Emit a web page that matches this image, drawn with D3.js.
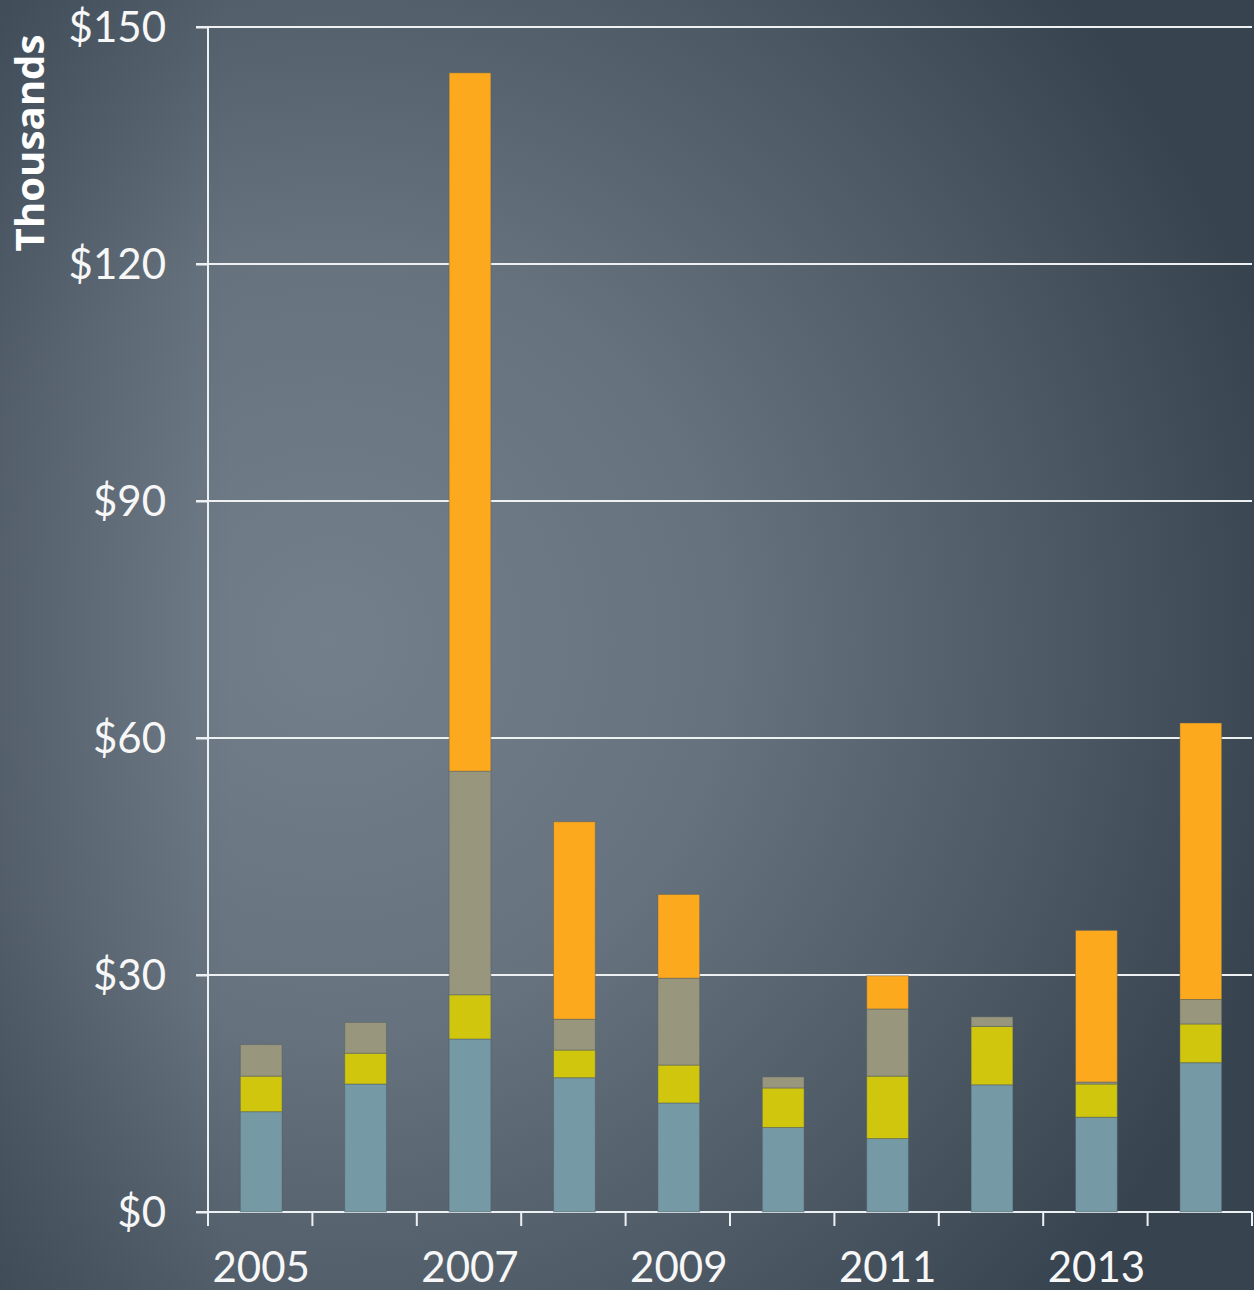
<!DOCTYPE html>
<html>
<head>
<meta charset="utf-8">
<script src="https://cdn.jsdelivr.net/npm/d3@7"></script>
<style>
  html, body { margin: 0; padding: 0; background: #2f3b48; }
  svg { display: block; }
</style>
</head>
<body>
<div id="chart"></div>
<script>
// values in thousands of dollars
var years = ["2005", "2006", "2007", "2008", "2009", "2010", "2011", "2012", "2013", "2014"];
var seriesKeys = ["first", "second", "third", "fourth"];
var firstValues  = [12.7, 16.2, 21.9, 17.0, 13.8, 10.7, 9.3, 16.1, 12.0, 18.9];
var secondValues = [4.5, 3.9, 5.6, 3.5, 4.8, 5.0, 7.9, 7.4, 4.2, 4.9];
var thirdValues  = [4.0, 3.9, 28.3, 3.9, 11.0, 1.4, 8.5, 1.2, 0.25, 3.1];
var fourthValues = [0, 0, 88.4, 25.0, 10.6, 0, 4.2, 0, 19.2, 35.0];
var yTicks = [0, 30, 60, 90, 120, 150];
var labelYears = ["2005", "2007", "2009", "2011", "2013"];
var colors = ["#7599a5", "#d0c60e", "#98967c", "#fda91e"];

var WIDTH = 1254, HEIGHT = 1290;
var PLOT_LEFT = 208, PLOT_RIGHT = 1252, PLOT_TOP = 27, PLOT_BOTTOM = 1212;

var rows = years.map(function(y, i){
	return { year: y, first: firstValues[i], second: secondValues[i], third: thirdValues[i], fourth: fourthValues[i] };
});

var svg = d3.select("#chart").append("svg")
	.attr("width", WIDTH)
	.attr("height", HEIGHT);

// background
var defs = svg.append("defs");
var rg = defs.append("radialGradient")
	.attr("id", "bg")
	.attr("gradientUnits", "userSpaceOnUse")
	.attr("cx", 330).attr("cy", 640).attr("r", 980);
rg.append("stop").attr("offset", 0).attr("stop-color", "#737f8a");
rg.append("stop").attr("offset", 0.4).attr("stop-color", "#66727d");
rg.append("stop").attr("offset", 0.75).attr("stop-color", "#4c5965");
rg.append("stop").attr("offset", 1).attr("stop-color", "#37434f");
var lg = defs.append("linearGradient")
	.attr("id", "edge")
	.attr("gradientUnits", "userSpaceOnUse")
	.attr("x1", 0).attr("x2", 230).attr("y1", 0).attr("y2", 0);
lg.append("stop").attr("offset", 0).attr("stop-color", "#19232f").attr("stop-opacity", 0.25);
lg.append("stop").attr("offset", 1).attr("stop-color", "#19232f").attr("stop-opacity", 0);

svg.append("rect").attr("width", WIDTH).attr("height", HEIGHT).attr("fill", "url(#bg)");
svg.append("rect").attr("width", 230).attr("height", HEIGHT).attr("fill", "url(#edge)");

var x = d3.scaleBand()
	.domain(years)
	.range([PLOT_LEFT + 1, PLOT_RIGHT + 1])
	.paddingInner(0.6)
	.paddingOuter(0.3);

var y = d3.scaleLinear()
	.domain([0, 150])
	.range([PLOT_BOTTOM, PLOT_TOP]);

// grid lines
svg.append("g").attr("class", "grid")
	.selectAll("line")
	.data(yTicks)
	.enter().append("line")
	.attr("x1", PLOT_LEFT - 12)
	.attr("x2", PLOT_RIGHT)
	.attr("y1", function(d){ return y(d); })
	.attr("y2", function(d){ return y(d); })
	.attr("stroke", "#eef1f3")
	.attr("stroke-width", 2);

// stacked bars
var stack = d3.stack().keys(seriesKeys);
var layers = stack(rows);

svg.append("g").attr("class", "bars")
	.selectAll("g")
	.data(layers)
	.enter().append("g")
	.attr("fill", function(d, i){ return colors[i]; })
	.selectAll("rect")
	.data(function(d){ return d.filter(function(p){ return p[1] - p[0] > 0; }); })
	.enter().append("rect")
	.attr("x", function(d){ return x(d.data.year); })
	.attr("width", x.bandwidth())
	.attr("y", function(d){ return y(d[1]); })
	.attr("height", function(d){ return y(d[0]) - y(d[1]); })
	.attr("stroke", "rgba(80,90,100,0.45)")
	.attr("stroke-width", 1);

// y axis
var yAxis = d3.axisLeft(y)
	.tickValues(yTicks)
	.tickSize(12)
	.tickPadding(30)
	.tickFormat(function(d){ return "$" + d; });

var yg = svg.append("g")
	.attr("transform", "translate(" + PLOT_LEFT + ",0)")
	.call(yAxis);
yg.select(".domain").remove();
yg.selectAll(".tick line").attr("stroke", "#eef1f3").attr("stroke-width", 2);
yg.selectAll(".tick text")
	.attr("fill", "#f7f7f7")
	.attr("font-family", "Lato, 'Open Sans', sans-serif")
	.attr("font-size", 42)
	.attr("dy", "0.35em");

svg.append("line")
	.attr("x1", PLOT_LEFT).attr("x2", PLOT_LEFT)
	.attr("y1", PLOT_TOP).attr("y2", PLOT_BOTTOM + 14)
	.attr("stroke", "#eef1f3").attr("stroke-width", 2);

// x axis: ticks on the band edges, labels on every other year
var step = x.step();
var edges = d3.range(years.length + 1).map(function(i){ return PLOT_LEFT + i * step; });

svg.append("g").attr("class", "xticks")
	.selectAll("line")
	.data(edges)
	.enter().append("line")
	.attr("x1", function(d){ return d; })
	.attr("x2", function(d){ return d; })
	.attr("y1", PLOT_BOTTOM)
	.attr("y2", PLOT_BOTTOM + 14)
	.attr("stroke", "#eef1f3")
	.attr("stroke-width", 2);

var xAxis = d3.axisBottom(x)
	.tickValues(labelYears)
	.tickSize(0)
	.tickPadding(40);

var xg = svg.append("g")
	.attr("transform", "translate(0," + PLOT_BOTTOM + ")")
	.call(xAxis);
xg.select(".domain").remove();
xg.selectAll(".tick text")
	.attr("fill", "#f7f7f7")
	.attr("font-family", "Lato, 'Open Sans', sans-serif")
	.attr("font-size", 42);

// axis title
svg.append("text")
	.attr("transform", "translate(44,143)rotate(-90)")
	.attr("text-anchor", "middle")
	.attr("fill", "#ffffff")
	.attr("font-family", "'Open Sans', Lato, sans-serif")
	.attr("font-weight", "bold")
	.attr("font-size", 40)
	.attr("textLength", 217)
	.attr("lengthAdjust", "spacingAndGlyphs")
	.text("Thousands");
</script>
</body>
</html>
